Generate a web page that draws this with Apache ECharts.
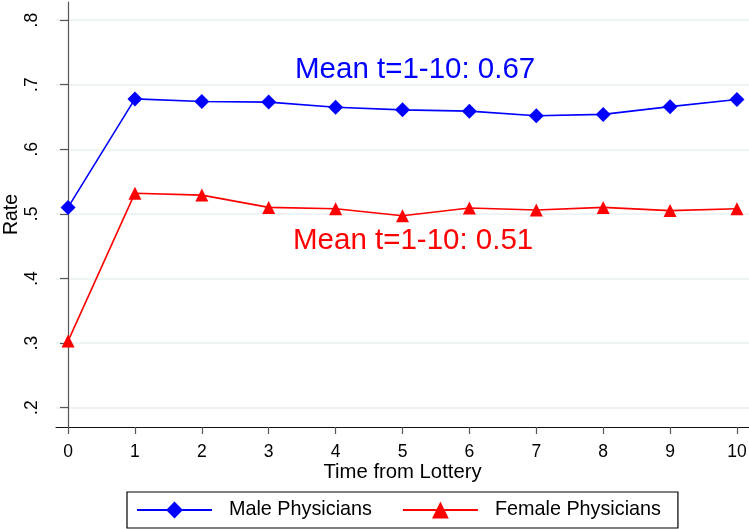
<!DOCTYPE html>
<html>
<head>
<meta charset="utf-8">
<script src="https://cdn.jsdelivr.net/npm/echarts@6/dist/echarts.min.js"></script>
<style>
  html, body { margin: 0; padding: 0; background: #fff; }
  #chart { width: 749px; height: 529px; }
</style>
</head>
<body>
<div id="chart"></div>
<script>
// values
var periods = [0, 1, 2, 3, 4, 5, 6, 7, 8, 9, 10];
var maleRate = [0.510, 0.678, 0.674, 0.673, 0.665, 0.661, 0.659, 0.652, 0.654, 0.666, 0.677];
var femaleRate = [0.303, 0.532, 0.529, 0.510, 0.508, 0.497, 0.509, 0.506, 0.510, 0.505, 0.508];
var xTicks = [0, 1, 2, 3, 4, 5, 6, 7, 8, 9, 10];
var yTicks = [0.2, 0.3, 0.4, 0.5, 0.6, 0.7, 0.8];
var maleNote = 'Mean t=1-10: 0.67';
var femaleNote = 'Mean t=1-10: 0.51';

var FONT = '"Liberation Sans", Arial, sans-serif';

function pairs(xs, ys) {
  return xs.map(function (x, i) { return [x, ys[i]]; });
}

var chart = echarts.init(document.getElementById('chart'), null, { renderer: 'canvas' });

var option = {
  animation: false,
  backgroundColor: '#fff',
  textStyle: { fontFamily: FONT },
  grid: { left: 56, right: 0, top: 2, bottom: 102, containLabel: false, outerBoundsMode: 'none' },
  xAxis: {
    type: 'value',
    min: -0.18,
    max: 10.18,
    name: 'Time from Lottery',
    nameLocation: 'middle',
    nameGap: 35,
    nameMoveOverlap: false,
    nameTextStyle: { fontSize: 20.3, color: '#000', fontFamily: FONT },
    axisLine: { lineStyle: { color: '#111', width: 1.2 } },
    axisTick: { customValues: xTicks, length: 7, lineStyle: { color: '#555', width: 1.2 } },
    axisLabel: { customValues: xTicks, margin: 16, fontSize: 17.5, color: '#000', fontFamily: FONT },
    splitLine: { show: false }
  },
  yAxis: {
    type: 'value',
    min: 0.17,
    max: 0.828,
    name: 'Rate',
    nameLocation: 'middle',
    nameGap: 34.5,
    nameMoveOverlap: false,
    nameTextStyle: { fontSize: 19.5, color: '#000', fontFamily: FONT },
    axisLine: { show: true, lineStyle: { color: '#555', width: 1.2 } },
    axisTick: { show: true, customValues: yTicks, length: 8, lineStyle: { color: '#555', width: 1.2 } },
    axisLabel: {
      customValues: yTicks,
      rotate: 90,
      margin: 15,
      fontSize: 17.5,
      color: '#000',
      fontFamily: FONT,
      formatter: function (v) { return v.toFixed(1).replace(/^0/, ''); }
    },
    splitLine: { show: true, lineStyle: { color: '#e8f0f2', width: 1.5 } }
  },
  legend: {
    left: 127,
    top: 492,
    orient: 'horizontal',
    padding: [8, 17, 8, 9],
    itemWidth: 75,
    itemHeight: 21,
    itemGap: 30,
    borderColor: '#000',
    borderWidth: 1.2,
    borderRadius: 0,
    textStyle: { fontSize: 19.8, color: '#000', fontFamily: FONT, padding: [0, 0, 0, 12] },
    data: ['Male Physicians', 'Female Physicians']
  },
  graphic: [
    {
      type: 'text', left: 295, top: 55,
      style: { text: maleNote, fill: '#0000ff', font: '29.5px ' + FONT }
    },
    {
      type: 'text', left: 293, top: 226,
      style: { text: femaleNote, fill: '#ff0000', font: '29.5px ' + FONT }
    }
  ],
  series: [
    {
      name: 'Male Physicians',
      type: 'line',
      data: pairs(periods, maleRate),
      symbol: 'diamond',
      symbolSize: 15,
      lineStyle: { color: '#0000ff', width: 1.6 },
      itemStyle: { color: '#0000ff' }
    },
    {
      name: 'Female Physicians',
      type: 'line',
      data: pairs(periods, femaleRate),
      symbol: 'triangle',
      symbolSize: 13,
      lineStyle: { color: '#ff0000', width: 1.6 },
      itemStyle: { color: '#ff0000' }
    }
  ]
};

chart.setOption(option);
</script>
</body>
</html>
